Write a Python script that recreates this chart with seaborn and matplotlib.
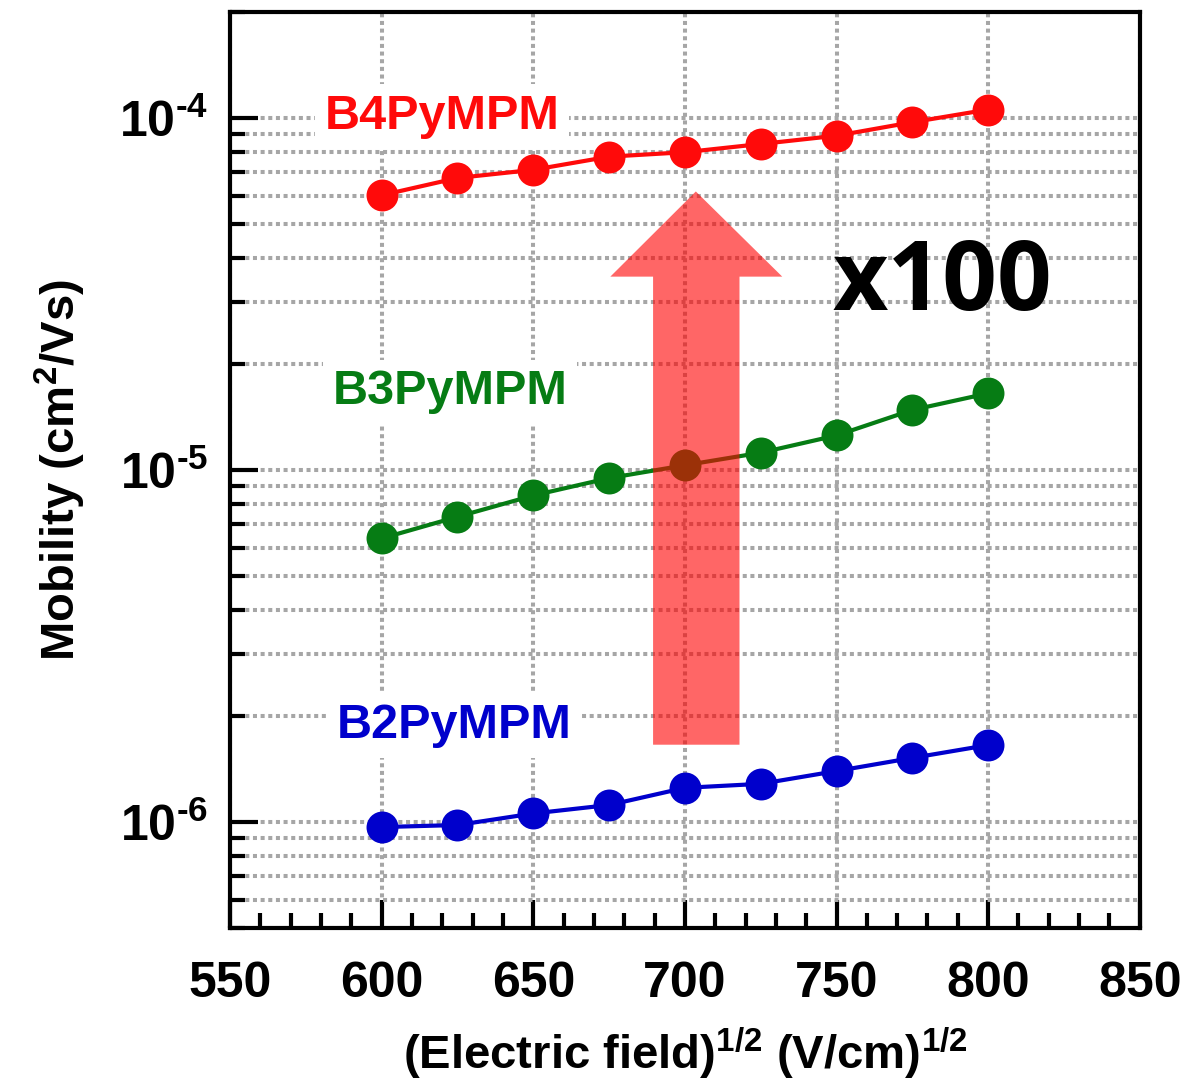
import numpy as np
import pandas as pd
import seaborn as sns
import matplotlib.pyplot as plt
from matplotlib.patches import Polygon
from matplotlib.ticker import LogLocator, NullFormatter, MultipleLocator, FuncFormatter

# sqrt(electric field) values
field = [600, 625, 650, 675, 700, 725, 750, 775, 800]

# mobility (cm2/Vs)
mob_b4 = [6.03e-5, 6.75e-5, 7.12e-5, 7.76e-5, 7.99e-5, 8.43e-5, 8.90e-5, 9.72e-5, 1.056e-4]
mob_b3 = [6.39e-6, 7.36e-6, 8.46e-6, 9.48e-6, 1.031e-5, 1.119e-5, 1.253e-5, 1.48e-5, 1.65e-5]
mob_b2 = [9.67e-7, 9.8e-7, 1.057e-6, 1.117e-6, 1.25e-6, 1.283e-6, 1.395e-6, 1.52e-6, 1.653e-6]

names = ['B4PyMPM', 'B3PyMPM', 'B2PyMPM']
colors = {'B4PyMPM': '#FF0A0A', 'B3PyMPM': '#067C14', 'B2PyMPM': '#0000CC'}

df = pd.DataFrame({
    'field': field * 3,
    'mobility': mob_b4 + mob_b3 + mob_b2,
    'material': [n for n in names for _ in field],
})

sns.set_style('ticks')
plt.rcParams['font.family'] = ['Liberation Sans', 'DejaVu Sans']
plt.rcParams['font.weight'] = 'bold'
plt.rcParams['mathtext.fontset'] = 'custom'
plt.rcParams['mathtext.rm'] = 'Liberation Sans:bold'
plt.rcParams['mathtext.bf'] = 'Liberation Sans:bold'
plt.rcParams['mathtext.it'] = 'Liberation Sans:bold'
plt.rcParams['axes.unicode_minus'] = False
for k in ['text.color', 'axes.labelcolor', 'xtick.color', 'ytick.color', 'axes.edgecolor']:
    plt.rcParams[k] = 'black'

fig = plt.figure(figsize=(11.86, 10.84), dpi=100)
ax = fig.add_axes([0.194, 0.144, 0.767, 0.845])

for n in names:
    sub = df[df['material'] == n]
    sns.lineplot(data=sub, x='field', y='mobility', ax=ax, color=colors[n],
                 linewidth=3.0, marker='o', markersize=23,
                 markeredgecolor=colors[n], markeredgewidth=0, zorder=3)

ax.set_yscale('log')
ax.set_xlim(550, 850)
ax.set_ylim(5e-7, 2e-4)
ax.xaxis.set_major_locator(MultipleLocator(50))
ax.xaxis.set_minor_locator(MultipleLocator(10))
ax.yaxis.set_major_locator(LogLocator(base=10))
ax.yaxis.set_minor_locator(LogLocator(base=10, subs=np.arange(2, 10)))
ax.yaxis.set_minor_formatter(NullFormatter())
ax.yaxis.set_major_formatter(FuncFormatter(
    lambda v, p: r'10$^{\text{-%d}}$' % round(-np.log10(v))))

# dotted grid
grid_kw = dict(color='#A6A6A6', linestyle=(0, (1, 0.9)), linewidth=2.9, zorder=0)
ax.grid(True, axis='x', which='major', **grid_kw)
ax.grid(True, axis='y', which='both', **grid_kw)
ax.set_axisbelow(True)

ax.tick_params(axis='both', which='major', direction='in', length=20, width=3,
               labelsize=36, top=False, right=False)
ax.tick_params(axis='both', which='minor', direction='in', length=11, width=3,
               top=False, right=False)
ax.tick_params(axis='x', which='major', pad=24)
ax.tick_params(axis='y', which='major', pad=16)
for s in ax.spines.values():
    s.set_linewidth(3)
    s.set_visible(True)

ax.set_xlabel(r'(Electric field)$^{\mathdefault{1/2}}$ (V/cm)$^{\mathdefault{1/2}}$',
              fontsize=34, fontweight='bold', labelpad=13)
ax.set_ylabel(r'Mobility (cm$^{\mathdefault{2}}$/Vs)', fontsize=34,
              fontweight='bold', labelpad=22)

# arrow (axes fraction)
arrow = Polygon([(0.512, 0.804), (0.607, 0.711), (0.560, 0.711), (0.560, 0.200),
                 (0.465, 0.200), (0.465, 0.711), (0.418, 0.711)],
                closed=True, transform=ax.transAxes, facecolor='#FF0000',
                alpha=0.6, edgecolor='none', zorder=4)
ax.add_patch(arrow)

box = dict(boxstyle='square,pad=0.2', fc='white', ec='none')
ax.text(620, 9.3e-5, 'B4PyMPM', color=colors['B4PyMPM'], fontsize=35,
        fontweight='bold', ha='center', va='baseline', bbox=box, zorder=2)
ax.text(622.5, 1.536e-5, 'B3PyMPM', color=colors['B3PyMPM'], fontsize=35,
        fontweight='bold', ha='center', va='baseline', bbox=box, zorder=2)
ax.text(624, 1.732e-6, 'B2PyMPM', color=colors['B2PyMPM'], fontsize=35,
        fontweight='bold', ha='center', va='baseline', bbox=box, zorder=2)
ax.text(785, 2.85e-5, 'x100', color='black', fontsize=69,
        family=['Open Sans', 'Liberation Sans'],
        fontweight='bold', ha='center', va='baseline', zorder=2)

plt.savefig('out.png', dpi=100)
